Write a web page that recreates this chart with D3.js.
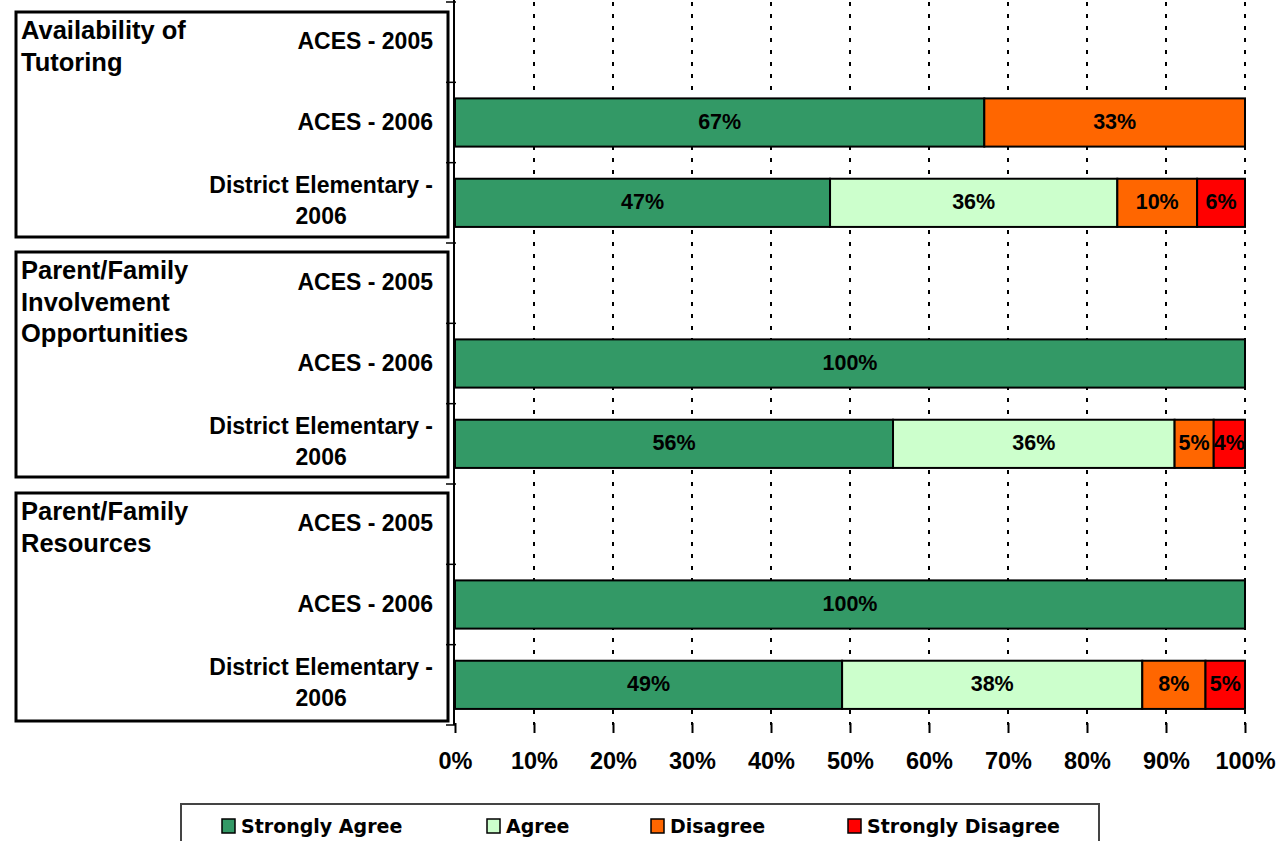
<!DOCTYPE html>
<html>
<head>
<meta charset="utf-8">
<script src="https://cdn.jsdelivr.net/npm/d3@7"></script>
<style>
  body { margin: 0; background: #fff; }
  svg { display: block; font-family: "Liberation Sans", Arial, sans-serif; font-weight: bold; }
</style>
</head>
<body>
<svg width="1287" height="841"></svg>
<script>
var svg = d3.select("svg");

// data
var groups = ["Availability of Tutoring", "Parent/Family Involvement Opportunities", "Parent/Family Resources"];
var groupLines = [["Availability of", "Tutoring"], ["Parent/Family", "Involvement", "Opportunities"], ["Parent/Family", "Resources"]];
var rowNames = ["ACES - 2005", "ACES - 2006", "District Elementary - 2006"];
var series = ["Strongly Agree", "Agree", "Disagree", "Strongly Disagree"];
var colors = ["#339966", "#CCFFCC", "#FF6600", "#FF0000"];

var tutoring = [null, [67, 0, 33, 0], [47, 36, 10, 6]];
var involvement = [null, [100, 0, 0, 0], [56, 36, 5, 4]];
var resources = [null, [100, 0, 0, 0], [49, 38, 8, 5]];
var allValues = [tutoring, involvement, resources];

var xTicks = [0, 0.1, 0.2, 0.3, 0.4, 0.5, 0.6, 0.7, 0.8, 0.9, 1];

// rows
var rows = [];
groups.forEach(function(g, gi) {
	rowNames.forEach(function(r, ri) {
		rows.push({id: gi + "-" + ri, group: gi, name: r, values: allValues[gi][ri]});
	});
});

var x = d3.scaleLinear().domain([0, 1]).range([455, 1245]);
var y = d3.scaleBand()
	.domain(rows.map(function(d) { return d.id; }))
	.range([2, 725])
	.paddingInner(0.4)
	.paddingOuter(0.2);
var step = y.step();

// gridlines
svg.append("g")
	.selectAll("line")
	.data(xTicks.slice(1))
	.enter().append("line")
	.attr("x1", function(d) { return x(d); })
	.attr("x2", function(d) { return x(d); })
	.attr("y1", 2)
	.attr("y2", 725)
	.attr("stroke", "#000")
	.attr("stroke-width", 2)
	.attr("stroke-dasharray", "4,8");

// bars
var segs = [];
rows.forEach(function(r) {
	if (!r.values) return;
	var total = d3.sum(r.values), acc = 0;
	r.values.forEach(function(v, i) {
		if (v > 0) segs.push({row: r, i: i, v: v, x0: acc / total, x1: (acc + v) / total});
		acc += v;
	});
});

var bar = svg.append("g").selectAll("g")
	.data(segs)
	.enter().append("g");

bar.append("rect")
	.attr("x", function(d) { return x(d.x0); })
	.attr("width", function(d) { return x(d.x1) - x(d.x0); })
	.attr("y", function(d) { return y(d.row.id); })
	.attr("height", y.bandwidth())
	.attr("fill", function(d) { return colors[d.i]; })
	.attr("stroke", "#000")
	.attr("stroke-width", 2);

bar.append("text")
	.attr("x", function(d) { return (x(d.x0) + x(d.x1)) / 2; })
	.attr("y", function(d) { return y(d.row.id) + y.bandwidth() / 2; })
	.attr("dy", "0.3em")
	.attr("text-anchor", "middle")
	.style("font-size", "21.5px")
	.text(function(d) { return d.v + "%"; });

// y axis line and ticks
svg.append("line")
	.attr("x1", 454).attr("x2", 454)
	.attr("y1", 0).attr("y2", 725)
	.attr("stroke", "#000").attr("stroke-width", 2);

svg.append("g").selectAll("line")
	.data(d3.range(rows.length + 1))
	.enter().append("line")
	.attr("x1", 446).attr("x2", 456)
	.attr("y1", function(i) { return 2 + i * step; })
	.attr("y2", function(i) { return 2 + i * step; })
	.attr("stroke", "#000").attr("stroke-width", 1.5);

// x axis
var xAxis = svg.append("g")
	.attr("transform", "translate(0,723)")
	.call(d3.axisBottom(x).tickValues(xTicks).tickSize(10).tickPadding(19).tickFormat(d3.format(".0%")));
xAxis.select(".domain").remove();
xAxis.selectAll(".tick line").attr("stroke", "#000").attr("stroke-width", 2);
xAxis.selectAll(".tick text")
	.attr("fill", "#000")
	.style("font-size", "23.5px")
	.style("font-family", "Liberation Sans, Arial, sans-serif")
	.style("font-weight", "bold");

// group boxes
var boxTops = [12, 252, 493];
var boxBottoms = [237, 477, 721];
groups.forEach(function(g, gi) {
	svg.append("rect")
		.attr("x", 16).attr("y", boxTops[gi])
		.attr("width", 432).attr("height", boxBottoms[gi] - boxTops[gi])
		.attr("fill", "none").attr("stroke", "#000").attr("stroke-width", 3);

	svg.append("text")
		.attr("x", 21)
		.attr("y", boxTops[gi] + 27)
		.style("font-size", "25.5px")
		.selectAll("tspan")
		.data(groupLines[gi])
		.enter().append("tspan")
		.attr("x", 21)
		.attr("dy", function(d, i) { return i ? 31.5 : 0; })
		.text(function(d) { return d; });
});

// row labels
rows.forEach(function(r) {
	var cy = y(r.id) + y.bandwidth() / 2;
	if (r.name.indexOf("District") === 0) {
		var first = svg.append("text").style("font-size", "23px")
			.attr("x", 433).attr("y", cy - 18).attr("dy", "0.35em")
			.attr("text-anchor", "end")
			.text("District Elementary -");
		var w = first.node().getComputedTextLength();
		svg.append("text").style("font-size", "23px")
			.attr("x", 433 - w / 2).attr("y", cy + 13).attr("dy", "0.35em")
			.attr("text-anchor", "middle")
			.text("2006");
	} else {
		svg.append("text")
			.attr("x", 433)
			.attr("y", cy - 1)
			.attr("dy", "0.35em")
			.attr("text-anchor", "end")
			.style("font-size", "23px")
			.text(r.name);
	}
});

// legend
svg.append("rect")
	.attr("x", 181).attr("y", 804)
	.attr("width", 918).attr("height", 50)
	.attr("fill", "#fff").attr("stroke", "#444").attr("stroke-width", 2);

var legendX = [222, 487, 651, 848];
var leg = svg.append("g").selectAll("g")
	.data(series)
	.enter().append("g")
	.attr("transform", function(d, i) { return "translate(" + legendX[i] + ",826)"; });

leg.append("rect")
	.attr("x", 0).attr("y", -7)
	.attr("width", 13).attr("height", 14)
	.attr("fill", function(d, i) { return colors[i]; })
	.attr("stroke", "#000").attr("stroke-width", 1.5);

leg.append("text")
	.attr("x", 19)
	.attr("dy", "0.36em")
	.style("font-family", "DejaVu Sans, sans-serif")
	.style("font-size", "19px")
	.text(function(d) { return d; });
</script>
</body>
</html>
